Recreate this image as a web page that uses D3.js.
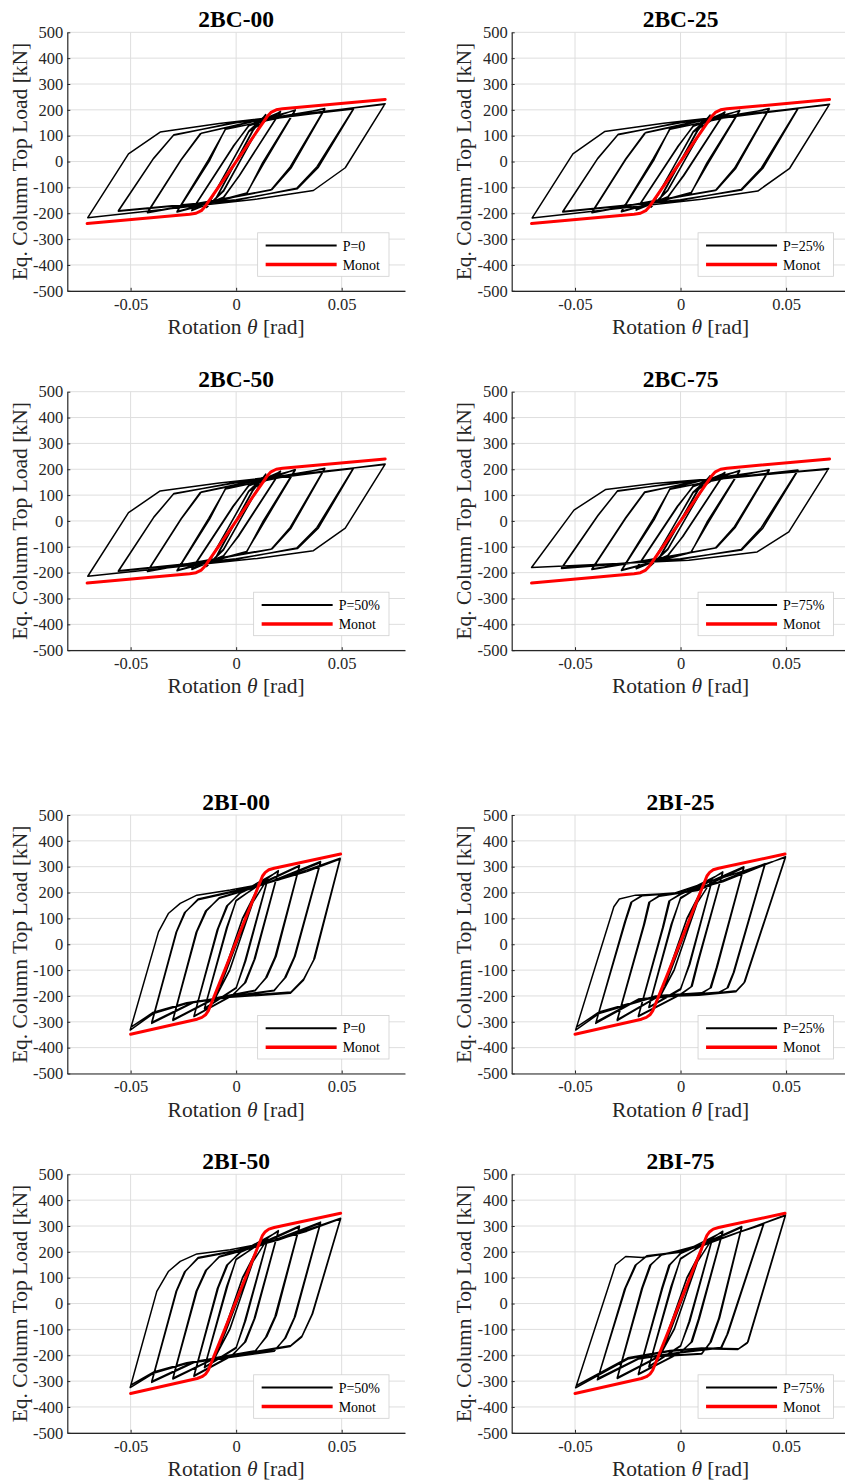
<!DOCTYPE html>
<html><head><meta charset="utf-8">
<script src="https://cdn.jsdelivr.net/npm/d3@7"></script>
<style>
html,body{margin:0;padding:0;background:#fff;}
svg{display:block;}
text{font-family:"Liberation Serif","Times New Roman",serif;fill:#262626;}
</style></head>
<body>
<svg id="chart" width="845" height="1484"></svg>
<script>
// ---------- DATA ----------
const titles = ["2BC-00","2BC-25","2BC-50","2BC-75","2BI-00","2BI-25","2BI-50","2BI-75"];
const legendLabels = ["P=0","P=25%","P=50%","P=75%","P=0","P=25%","P=50%","P=75%"];
const yTickVals = [500,400,300,200,100,0,-100,-200,-300,-400,-500];
const xTickVals = [-0.05,0,0.05];
const xTickLabels = ["-0.05","0","0.05"];

// monotonic responses [rotation rad, load kN]
const monoBC = [[-0.0706,-240],[-0.022,-204],[-0.019,-200],[-0.0165,-190],[-0.0147,-174],[-0.0137,-162],
  [0.0137,162],[0.0147,174],[0.0165,190],[0.019,200],[0.022,204],[0.0706,240]];
const monoBI = [[-0.0500,-348],[-0.0185,-290],[-0.0162,-283],[-0.0145,-273],[-0.0132,-258],
  [0.0125,264],[0.0138,278],[0.0155,288],[0.018,294],[0.0495,349]];

// cyclic responses [rotation rad, load kN]
const cyc2BC00 = [[0,0],
 [0.0105,158],[-0.008,-120],[-0.0105,-158],[0.008,122],[0.0105,160],[-0.008,-118],[-0.0105,-156],[0.008,120],
 [0.014,182],[-0.006,-115],[-0.014,-178],[0.006,118],[0.014,180],[-0.006,-112],[-0.014,-176],[0.006,116],
 [0.021,194],[0.001,-60],[-0.006,-140],[-0.021,-190],[-0.001,62],[0.006,140],[0.021,192],[0.0015,-55],[-0.006,-138],[-0.021,-188],[-0.0015,58],[0.006,138],
 [0.028,200],[0.0125,-5],[0.005,-125],[-0.028,-195],[-0.0125,5],[-0.005,128],[0.028,198],[0.013,-8],[0.005,-122],[-0.028,-193],[-0.013,8],[-0.005,125],
 [0.042,205],[0.0256,-21],[0.0165,-110],[-0.01,-152],[-0.042,-198],[-0.0262,5],[-0.0165,110],[0.01,160],
 [0.042,203],[0.026,-25],[0.017,-108],[-0.01,-150],[-0.042,-196],[-0.026,8],[-0.017,108],[0.01,158],
 [0.0556,205],[0.0383,-20],[0.0287,-103],[0.0,-150],[-0.0558,-192],[-0.0392,11],[-0.0297,102],[0.0,152],
 [0.0556,203],[0.039,-22],[0.029,-105],[0.0,-148],[-0.0558,-190],[-0.039,14],[-0.0295,104],[0.0,150],
 [0.0706,224],[0.0517,-24],[0.0366,-112],[0.01,-145],[-0.0703,-217],[-0.051,30],[-0.036,114],[-0.008,147],[0.0706,222]];
const cyc2BC25 = [[0,0],
 [0.0105,156],[-0.008,-118],[-0.0105,-157],[0.008,120],[0.0105,158],[-0.008,-116],[-0.0105,-155],[0.008,118],
 [0.014,180],[-0.006,-112],[-0.014,-177],[0.006,116],[0.014,178],[-0.006,-110],[-0.014,-175],[0.006,114],
 [0.021,192],[0.001,-58],[-0.006,-138],[-0.021,-188],[-0.001,60],[0.006,138],[0.021,190],[0.0015,-55],[-0.006,-136],[-0.021,-186],[-0.0015,56],[0.006,136],
 [0.028,198],[0.0125,-5],[0.005,-122],[-0.028,-194],[-0.0125,8],[-0.005,128],[0.028,196],[0.013,-8],[0.005,-120],[-0.028,-192],[-0.013,10],[-0.005,125],
 [0.042,205],[0.0256,-25],[0.0165,-112],[-0.01,-150],[-0.042,-198],[-0.026,8],[-0.0165,112],[0.01,160],
 [0.042,203],[0.026,-28],[0.017,-110],[-0.01,-148],[-0.042,-196],[-0.026,10],[-0.017,110],[0.01,158],
 [0.0556,206],[0.0383,-25],[0.0287,-108],[0.0,-150],[-0.0558,-195],[-0.0392,12],[-0.0297,104],[0.0,152],
 [0.0556,204],[0.039,-26],[0.029,-110],[0.0,-148],[-0.0558,-193],[-0.039,15],[-0.0295,106],[0.0,150],
 [0.0706,222],[0.0517,-26],[0.0366,-114],[0.01,-146],[-0.0703,-218],[-0.051,30],[-0.036,116],[-0.008,148],[0.0706,220]];
const cyc2BC50 = [[0,0],
 [0.0105,157],[-0.008,-118],[-0.0105,-156],[0.008,120],[0.0105,158],[-0.008,-116],[-0.0105,-154],[0.008,118],
 [0.014,181],[-0.006,-112],[-0.014,-176],[0.006,116],[0.014,179],[-0.006,-110],[-0.014,-174],[0.006,114],
 [0.021,193],[0.001,-58],[-0.006,-136],[-0.021,-188],[-0.001,60],[0.006,138],[0.021,191],[0.0015,-55],[-0.006,-134],[-0.021,-186],[-0.0015,57],[0.006,136],
 [0.028,199],[0.0125,-5],[0.005,-120],[-0.028,-193],[-0.0125,8],[-0.005,126],[0.028,197],[0.013,-8],[0.005,-118],[-0.028,-191],[-0.013,10],[-0.005,124],
 [0.042,204],[0.0256,-25],[0.0165,-110],[-0.01,-148],[-0.042,-196],[-0.026,8],[-0.0165,112],[0.01,158],
 [0.042,202],[0.026,-28],[0.017,-108],[-0.01,-146],[-0.042,-194],[-0.026,10],[-0.017,110],[0.01,156],
 [0.0556,205],[0.0383,-25],[0.0287,-105],[0.0,-148],[-0.0558,-195],[-0.0392,12],[-0.0297,104],[0.0,150],
 [0.0556,203],[0.039,-27],[0.029,-107],[0.0,-146],[-0.0558,-193],[-0.039,15],[-0.0295,106],[0.0,148],
 [0.0706,220],[0.0517,-28],[0.0366,-115],[0.01,-145],[-0.0703,-214],[-0.051,32],[-0.036,116],[-0.008,147],[0.0706,218]];
const cyc2BC75 = [[0,0],
 [0.0105,150],[-0.008,-115],[-0.0105,-150],[0.008,118],[0.0105,152],[-0.008,-113],[-0.0105,-148],[0.008,116],
 [0.014,175],[-0.006,-110],[-0.014,-172],[0.006,112],[0.014,173],[-0.006,-108],[-0.014,-170],[0.006,110],
 [0.021,188],[0.001,-60],[-0.006,-135],[-0.021,-185],[-0.001,60],[0.006,135],[0.021,186],[0.0015,-56],[-0.006,-133],[-0.021,-183],[-0.0015,57],[0.006,133],
 [0.028,195],[0.0125,-5],[0.005,-122],[-0.028,-192],[-0.0125,5],[-0.005,125],[0.028,193],[0.013,-8],[0.005,-120],[-0.028,-190],[-0.013,8],[-0.005,123],
 [0.042,198],[0.0256,-21],[0.0165,-105],[-0.01,-145],[-0.042,-188],[-0.026,10],[-0.017,110],[0.01,158],
 [0.042,196],[0.026,-24],[0.017,-104],[-0.01,-143],[-0.042,-186],[-0.026,13],[-0.017,112],[0.01,156],
 [0.0556,197],[0.0383,-25],[0.0287,-110],[0.0,-148],[-0.0564,-184],[-0.0392,20],[-0.030,115],[0.0,150],
 [0.0556,195],[0.039,-28],[0.029,-112],[0.0,-146],[-0.0564,-182],[-0.039,23],[-0.0298,117],[0.0,148],
 [0.0702,203],[0.0513,-42],[0.0363,-120],[0.0039,-152],[-0.0706,-180],[-0.0505,42],[-0.0354,122],[-0.0126,145],[0.0702,200]];
const cyc2BI00 = [[0,0],
 [0.0075,160],[-0.005,-110],[-0.0075,-160],[0.005,112],[0.0075,158],[-0.005,-108],[-0.0075,-158],[0.005,110],
 [0.01,215],[-0.003,-100],[-0.01,-210],[0.003,100],[0.01,212],[-0.003,-98],[-0.01,-208],[0.003,98],
 [0.015,255],[0.004,-70],[0,-170],[-0.015,-250],[-0.004,70],[0,170],[0.015,252],[0.0045,-65],[0,-168],[-0.015,-248],[-0.0045,65],[0,168],
 [0.02,285],[0.0085,-60],[0.004,-150],[-0.002,-200],[-0.02,-280],[-0.0085,60],[-0.004,150],[0.002,200],
 [0.02,282],[0.009,-55],[0.0045,-148],[-0.002,-198],[-0.02,-278],[-0.009,55],[-0.0045,148],[0.002,198],
 [0.03,305],[0.0184,-50],[0.014,-130],[0.009,-180],[-0.01,-210],[-0.03,-295],[-0.0185,50],[-0.014,130],[-0.008,180],[0.01,225],
 [0.03,302],[0.019,-45],[0.0145,-128],[0.009,-178],[-0.01,-208],[-0.03,-292],[-0.019,45],[-0.0145,128],[-0.008,178],[0.01,222],
 [0.04,320],[0.0275,-50],[0.023,-130],[0.018,-180],[0,-200],[-0.02,-225],[-0.04,-306],[-0.0281,50],[-0.024,125],[-0.018,175],[0,208],[0.02,250],
 [0.04,316],[0.028,-45],[0.0235,-128],[0.018,-178],[0,-198],[-0.02,-222],[-0.04,-302],[-0.0285,45],[-0.0245,122],[-0.018,172],[0,205],[0.02,248],
 [0.0493,333],[0.0367,-61],[0.0319,-139],[0.0256,-190],[-0.003,-205],[-0.0234,-229],[-0.0392,-268],[-0.0502,-332],
 [-0.0368,48],[-0.032,120],[-0.0265,158],[-0.0186,190],[-0.0028,210],[0.0145,236],[0.0335,281],[0.0493,330],
 [0.0372,-55],[0.032,-135],[0.026,-185],[-0.003,-202],[-0.0234,-226],[-0.0392,-263],[-0.0500,-322]];
const cyc2BI25 = [[0,0],
 [0.0075,160],[-0.005,-110],[-0.0075,-160],[0.005,112],[0.0075,158],[-0.005,-108],[-0.0075,-158],[0.005,110],
 [0.01,212],[-0.003,-100],[-0.01,-208],[0.003,100],[0.01,210],[-0.003,-98],[-0.01,-206],[0.003,98],
 [0.015,250],[0.004,-80],[0,-175],[-0.015,-245],[-0.004,80],[0,180],[0.015,248],[0.0045,-75],[0,-172],[-0.015,-243],[-0.0045,75],[0,177],
 [0.02,280],[0.008,-70],[0.005,-165],[0.0,-195],[-0.02,-280],[-0.008,70],[-0.005,170],[0.0,195],
 [0.02,277],[0.0085,-65],[0.0055,-162],[0.0,-193],[-0.02,-277],[-0.0085,65],[-0.0055,167],[0.0,193],
 [0.03,300],[0.017,-90],[0.014,-170],[0.01,-190],[-0.01,-200],[-0.03,-295],[-0.017,80],[-0.0145,165],[-0.01,188],[0.008,210],
 [0.03,297],[0.0175,-85],[0.0145,-168],[0.01,-188],[-0.01,-198],[-0.03,-292],[-0.0175,75],[-0.015,162],[-0.01,186],[0.008,208],
 [0.04,312],[0.025,-110],[0.022,-170],[0.018,-188],[0,-198],[-0.02,-215],[-0.0402,-306],[-0.026,90],[-0.023,165],[-0.018,190],[0,200],[0.02,245],
 [0.04,308],[0.0255,-105],[0.0225,-168],[0.018,-186],[0,-196],[-0.02,-212],[-0.0400,-300],[-0.0265,85],[-0.0235,162],[-0.018,188],[0,198],[0.02,242],
 [0.0497,339],[0.030,-151],[0.0262,-184],[0.0087,-197],[-0.0118,-203],[-0.0386,-268],[-0.0497,-332],
 [-0.0316,145],[-0.029,175],[-0.0213,190],[-0.003,197],[0.0087,229],[0.0262,274],[0.0497,336],
 [0.0305,-145],[0.0265,-180],[0.0087,-195],[-0.0118,-200],[-0.0386,-262],[-0.0495,-322]];
const cyc2BI50 = [[0,0],
 [0.0075,158],[-0.005,-110],[-0.0075,-158],[0.005,112],[0.0075,156],[-0.005,-108],[-0.0075,-156],[0.005,110],
 [0.01,212],[-0.003,-100],[-0.01,-208],[0.003,100],[0.01,210],[-0.003,-98],[-0.01,-206],[0.003,98],
 [0.015,252],[0.004,-70],[0,-172],[-0.015,-248],[-0.004,70],[0,172],[0.015,250],[0.0045,-66],[0,-170],[-0.015,-246],[-0.0045,66],[0,170],
 [0.02,282],[0.0085,-60],[0.004,-150],[-0.002,-202],[-0.02,-282],[-0.0085,60],[-0.004,150],[0.002,200],
 [0.02,279],[0.009,-55],[0.0045,-148],[-0.002,-200],[-0.02,-279],[-0.009,56],[-0.0045,148],[0.002,198],
 [0.03,300],[0.0184,-50],[0.014,-130],[0.009,-185],[-0.01,-212],[-0.03,-292],[-0.0185,50],[-0.014,130],[-0.008,182],[0.01,222],
 [0.03,297],[0.019,-46],[0.0145,-128],[0.009,-183],[-0.01,-210],[-0.03,-289],[-0.019,46],[-0.0145,128],[-0.008,180],[0.01,220],
 [0.04,315],[0.0275,-55],[0.023,-135],[0.018,-185],[0,-205],[-0.02,-228],[-0.04,-305],[-0.0281,50],[-0.024,125],[-0.018,178],[0,205],[0.02,248],
 [0.04,311],[0.028,-50],[0.0235,-132],[0.018,-183],[0,-203],[-0.02,-225],[-0.04,-301],[-0.0285,46],[-0.0245,122],[-0.018,175],[0,203],[0.02,246],
 [0.0495,330],[0.0359,-43],[0.0310,-130],[0.0256,-166],[-0.003,-205],[-0.0234,-232],[-0.0392,-270],[-0.0502,-325],
 [-0.0376,47],[-0.032,125],[-0.0265,163],[-0.0186,192],[-0.0028,208],[0.0145,235],[0.0335,280],[0.0495,328],
 [0.0363,-38],[0.0313,-125],[0.026,-162],[-0.003,-202],[-0.0234,-229],[-0.0392,-265],[-0.0500,-316]];
const cyc2BI75 = [[0,0],
 [0.0075,160],[-0.005,-110],[-0.0075,-160],[0.005,112],[0.0075,158],[-0.005,-108],[-0.0075,-158],[0.005,110],
 [0.01,210],[-0.003,-100],[-0.01,-205],[0.003,100],[0.01,208],[-0.003,-98],[-0.01,-203],[0.003,98],
 [0.015,250],[0.004,-70],[0,-165],[-0.015,-245],[-0.004,70],[0,175],[0.015,248],[0.0045,-66],[0,-163],[-0.015,-243],[-0.0045,66],[0,172],
 [0.02,280],[0.0085,-60],[0.005,-150],[0.0,-190],[-0.02,-275],[-0.0085,60],[-0.005,150],[0.0,195],
 [0.02,277],[0.009,-56],[0.0055,-148],[0.0,-188],[-0.02,-272],[-0.009,56],[-0.0055,148],[0.0,193],
 [0.029,298],[0.018,-60],[0.014,-150],[0.01,-195],[-0.01,-205],[-0.03,-290],[-0.018,60],[-0.014,150],[-0.009,190],[0.01,225],
 [0.029,295],[0.0185,-56],[0.0145,-148],[0.01,-193],[-0.01,-203],[-0.03,-287],[-0.0185,56],[-0.0145,148],[-0.009,188],[0.01,222],
 [0.0394,311],[0.022,-120],[0.019,-172],[0.0,-190],[-0.02,-215],[-0.0394,-295],[-0.026,60],[-0.021,150],[-0.016,185],[0,200],[0.02,255],
 [0.0394,307],[0.0225,-115],[0.0195,-170],[0.0,-188],[-0.02,-212],[-0.0392,-290],[-0.0265,56],[-0.0215,148],[-0.016,183],[0,198],[0.02,252],
 [0.0497,343],[0.0316,-153],[0.027,-178],[0.01,-175],[-0.005,-185],[-0.025,-215],[-0.0497,-326],
 [-0.0308,150],[-0.026,182],[-0.0181,178],[-0.0055,195],[0.015,240],[0.0497,340],
 [0.032,-148],[0.0275,-175],[0.01,-172],[-0.005,-182],[-0.025,-210],[-0.0495,-318]];

const cycSeries = [cyc2BC00,cyc2BC25,cyc2BC50,cyc2BC75,cyc2BI00,cyc2BI25,cyc2BI50,cyc2BI75];
const monoSeries = [monoBC,monoBC,monoBC,monoBC,monoBI,monoBI,monoBI,monoBI];

// ---------- LAYOUT ----------
const colX = [67.3, 511.7];
const plotW = 337.7;
const rowY = [32.3, 391.7, 815, 1174.3];
const plotH = 258.5;

const svg = d3.select("#chart");

titles.forEach((title, i) => {
  const col = i % 2, row = Math.floor(i / 2);
  const x0 = colX[col], y0 = rowY[row];
  const x = d3.scaleLinear().domain([-0.08, 0.08]).range([x0, x0 + plotW]);
  const y = d3.scaleLinear().domain([-500, 500]).range([y0 + plotH, y0]);
  const g = svg.append("g");

  // grid
  g.selectAll(".gy").data(yTickVals).enter().append("line")
    .attr("x1", x0).attr("x2", x0 + plotW)
    .attr("y1", d => y(d)).attr("y2", d => y(d))
    .attr("stroke", "#dedede").attr("stroke-width", 1);
  g.selectAll(".gx").data(xTickVals).enter().append("line")
    .attr("x1", d => x(d)).attr("x2", d => x(d))
    .attr("y1", y0).attr("y2", y0 + plotH)
    .attr("stroke", "#dedede").attr("stroke-width", 1);

  // axes
  const ay = g.append("g").attr("transform", `translate(${x0},0)`)
    .call(d3.axisLeft(y).tickValues(yTickVals).tickFormat(d => String(d))
      .tickSizeInner(-3).tickSizeOuter(0).tickPadding(4));
  const ax = g.append("g").attr("transform", `translate(0,${y0 + plotH})`)
    .call(d3.axisBottom(x).tickValues(xTickVals).tickFormat((d, k) => xTickLabels[k])
      .tickSizeInner(-3).tickSizeOuter(0).tickPadding(7));
  [ay, ax].forEach(a => {
    a.select(".domain").attr("stroke", "#262626").attr("stroke-width", 1.2);
    a.selectAll(".tick line").attr("stroke", "#262626");
    a.selectAll("text").attr("font-size", "16.5px").attr("fill", "#262626");
  });

  // data lines
  const line = d3.line().x(d => x(d[0])).y(d => y(d[1]));
  g.append("path").datum(cycSeries[i]).attr("d", line)
    .attr("fill", "none").attr("stroke", "#000").attr("stroke-width", 1.5)
    .attr("stroke-linejoin", "round");
  g.append("path").datum(monoSeries[i]).attr("d", line)
    .attr("fill", "none").attr("stroke", "#ff0000").attr("stroke-width", 3)
    .attr("stroke-linejoin", "round").attr("stroke-linecap", "round");

  // title
  g.append("text").attr("x", x0 + plotW / 2).attr("y", y0 - 5)
    .attr("text-anchor", "middle").attr("font-weight", "bold")
    .attr("font-size", "23.5px").style("fill", "#000").text(title);

  // x label
  const xl = g.append("text").attr("x", x0 + plotW / 2).attr("y", y0 + plotH + 43)
    .attr("text-anchor", "middle").attr("font-size", "21.5px");
  xl.append("tspan").text("Rotation ");
  xl.append("tspan").attr("font-style", "italic").text("θ");
  xl.append("tspan").text(" [rad]");

  // y label
  g.append("text").attr("transform", `translate(${x0 - 40.5},${y0 + plotH / 2}) rotate(-90)`)
    .attr("text-anchor", "middle").attr("font-size", "21.5px")
    .text("Eq. Column Top Load [kN]");

  // legend
  const lg = g.append("g");
  const t1 = lg.append("text").attr("font-size", "14px").style("fill", "#000").text(legendLabels[i]);
  const t2 = lg.append("text").attr("font-size", "14px").style("fill", "#000").text("Monot");
  const tw = Math.max(t1.node().getComputedTextLength(), t2.node().getComputedTextLength());
  const bw = 8 + 71 + 6 + tw + 9, bh = 43.5;
  const bx = x0 + plotW - 16 - bw, by = y0 + plotH - 58;
  lg.insert("rect", "text").attr("x", bx).attr("y", by).attr("width", bw).attr("height", bh)
    .attr("fill", "#fff").attr("stroke", "#cfcfcf").attr("stroke-width", 0.8);
  const ly1 = by + 12.7, ly2 = by + 31.7;
  lg.append("line").attr("x1", bx + 8).attr("x2", bx + 79).attr("y1", ly1).attr("y2", ly1)
    .attr("stroke", "#000").attr("stroke-width", 2);
  lg.append("line").attr("x1", bx + 8).attr("x2", bx + 79).attr("y1", ly2).attr("y2", ly2)
    .attr("stroke", "#ff0000").attr("stroke-width", 3.5);
  t1.attr("x", bx + 85).attr("y", ly1 + 5);
  t2.attr("x", bx + 85).attr("y", ly2 + 5);
});
</script>
</body></html>
